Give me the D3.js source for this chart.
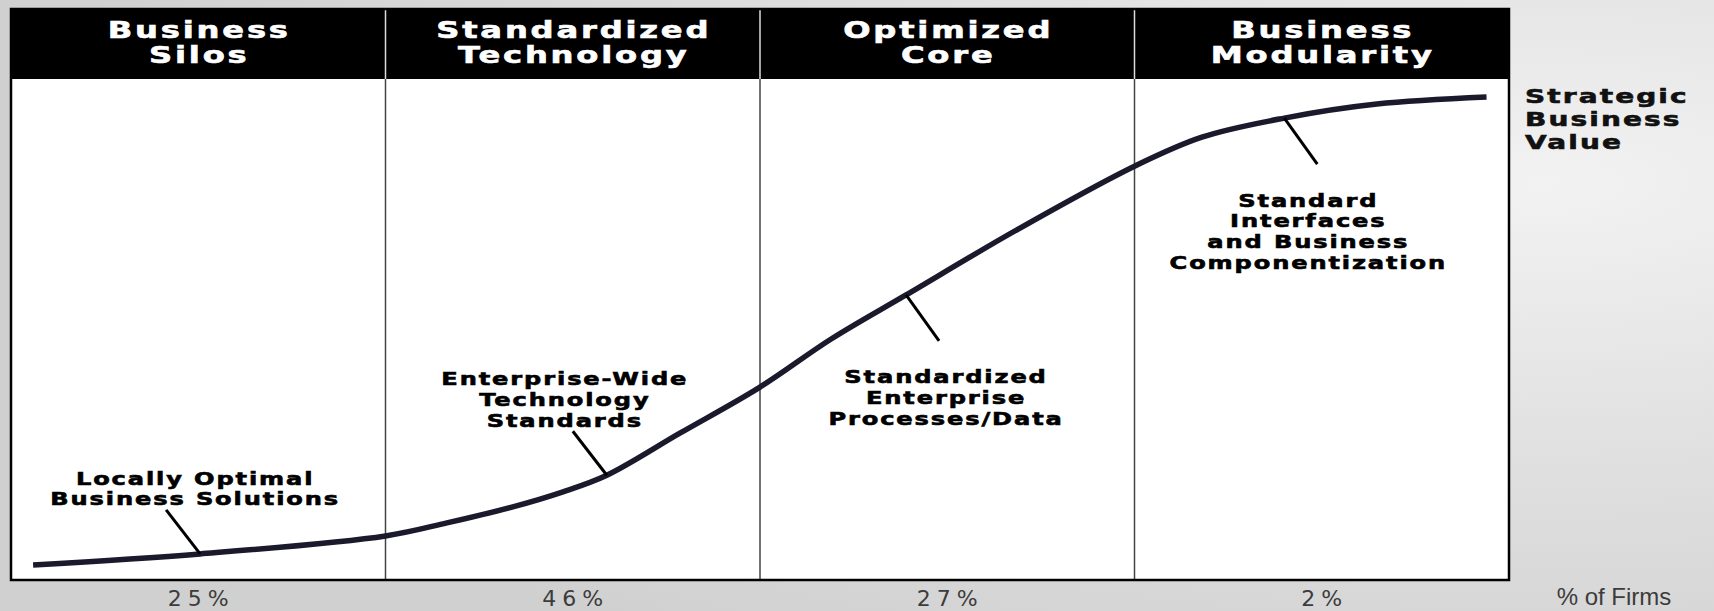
<!DOCTYPE html>
<html>
<head>
<meta charset="utf-8">
<script src="https://cdn.jsdelivr.net/npm/d3@7"></script>
<style>
  body { margin: 0; background: #d9d9d9; }
  svg { display: block; }
</style>
</head>
<body>
<svg width="1714" height="611"></svg>
<script>
// stages across the top
const stages = [
  ["Business", "Silos"],
  ["Standardized", "Technology"],
  ["Optimized", "Core"],
  ["Business", "Modularity"]
];

// share of firms in each stage
const firmShares = ["25%", "46%", "27%", "2%"];

// curve: x in stage units (0-4), y = strategic value (0-100)
const curveX = [0.059, 0.505, 1.0, 1.164, 1.34, 1.474, 1.591, 1.786, 2.0, 2.19, 2.39, 2.686, 3.0, 3.18, 3.40, 3.647, 3.94];
const curveY = [3.0, 5.2, 8.8, 11.4, 14.6, 17.6, 20.9, 29.3, 38.5, 48.1, 56.9, 69.9, 82.6, 88.4, 92.2, 95.0, 96.4];

// callouts: index of the curve point they point at, and text lines
const calloutPoint = [1, 6, 10, 14];
const calloutText = [
  ["Locally Optimal", "Business Solutions"],
  ["Enterprise-Wide", "Technology", "Standards"],
  ["Standardized", "Enterprise", "Processes/Data"],
  ["Standard", "Interfaces", "and Business", "Componentization"]
];

const valueLabel = ["Strategic", "Business", "Value"];

const svg = d3.select("svg");

// background
const defs = svg.append("defs");
const bg = defs.append("radialGradient").attr("id", "bg")
  .attr("cx", "0.9").attr("cy", "0.3").attr("r", "0.9");
bg.append("stop").attr("offset", "0").attr("stop-color", "#f2f2f2");
bg.append("stop").attr("offset", "0.5").attr("stop-color", "#e0e0e0");
bg.append("stop").attr("offset", "1").attr("stop-color", "#d0d0d0");
svg.append("rect").attr("width", 1714).attr("height", 611).attr("fill", "url(#bg)");

// scales
const x = d3.scaleLinear().domain([0, 4]).range([11, 1509]);
const y = d3.scaleLinear().domain([0, 100]).range([580, 79]);
const headTop = 9;

// wide heavy lettering: each line its own text, stretched horizontally
function wideText(g, str, cx, cy, size, stretch, spacing, fill, anchor) {
  return g.append("text")
    .attr("transform", `translate(${cx},${cy}) scale(${stretch},1)`)
    .attr("text-anchor", anchor || "middle")
    .attr("fill", fill)
    .attr("stroke", fill)
    .attr("stroke-width", 0.6)
    .style("font-family", "DejaVu Sans")
    .style("font-weight", "bold")
    .style("font-size", size + "px")
    .style("letter-spacing", spacing + "px")
    .text(str);
}

// white plot area
svg.append("rect")
  .attr("x", x(0)).attr("y", y(100))
  .attr("width", x(4) - x(0)).attr("height", y(0) - y(100))
  .attr("fill", "#ffffff");

// header band
svg.append("rect")
  .attr("x", x(0)).attr("y", headTop)
  .attr("width", x(4) - x(0)).attr("height", y(100) - headTop)
  .attr("fill", "#000000");

// column dividers
svg.selectAll("line.div")
  .data([1, 2, 3])
  .enter()
  .append("line")
  .attr("class", "div")
  .attr("x1", d => x(d)).attr("x2", d => x(d))
  .attr("y1", y(100)).attr("y2", y(0))
  .attr("stroke", "#444")
  .attr("stroke-width", 1.5);

// header dividers, light over black
svg.selectAll("line.hdiv")
  .data([1, 2, 3])
  .enter()
  .append("line")
  .attr("class", "hdiv")
  .attr("x1", d => x(d)).attr("x2", d => x(d))
  .attr("y1", headTop).attr("y2", y(100))
  .attr("stroke", "#dddddd")
  .attr("stroke-width", 1.5);

// outer border
svg.append("rect")
  .attr("x", x(0)).attr("y", headTop)
  .attr("width", x(4) - x(0)).attr("height", y(0) - headTop)
  .attr("fill", "none")
  .attr("stroke", "#000")
  .attr("stroke-width", 2.5);

// header text
stages.forEach((lines, i) => {
  lines.forEach((t, j) => {
    wideText(svg, t, x(i + 0.5) + 1, 38 + j * 25, 23, 1.4, 2, "#ffffff");
  });
});

// the curve
const line = d3.line()
  .x(d => x(d[0]))
  .y(d => y(d[1]))
  .curve(d3.curveCatmullRom.alpha(0.5));

const points = curveX.map((v, i) => [v, curveY[i]]);

svg.append("path")
  .attr("d", line(points))
  .attr("fill", "none")
  .attr("stroke", "#1a1a2c")
  .attr("stroke-width", 5.5)
  .attr("stroke-linecap", "butt");

// callouts
calloutPoint.forEach((p, i) => {
  const px = x(points[p][0]);
  const py = y(points[p][1]);
  const up = i < 2;
  const ex = up ? px - 34 : px + 33;
  const ey = up ? py - 44 : py + 46;
  svg.append("line")
    .attr("x1", px).attr("y1", py)
    .attr("x2", ex).attr("y2", ey)
    .attr("stroke", "#000")
    .attr("stroke-width", 3);

  const lines = calloutText[i];
  const lx = [px - 5, px - 42, px + 40, px + 24][i];
  const lineH = 20.7;
  const firstY = up ? ey - 11 - (lines.length - 1) * lineH : ey + 36;
  lines.forEach((t, j) => {
    wideText(svg, t, lx, firstY + j * lineH + 6.5, 18, 1.34, 1.4, "#000");
  });
});

// right-hand axis label
valueLabel.forEach((t, j) => {
  wideText(svg, t, 1525, 103 + j * 23, 20, 1.4, 1.5, "#111", "start");
});

// share of firms along the bottom
svg.selectAll("text.share")
  .data(firmShares)
  .enter()
  .append("text")
  .attr("class", "share")
  .attr("x", (d, i) => x(i + 0.5) + 3)
  .attr("y", 606)
  .attr("text-anchor", "middle")
  .attr("fill", "#3c3c3c")
  .style("font-family", "DejaVu Sans")
  .style("font-size", "22px")
  .style("letter-spacing", "6px")
  .text(d => d);

svg.append("text")
  .attr("x", 1614)
  .attr("y", 605)
  .attr("text-anchor", "middle")
  .attr("fill", "#3c3c3c")
  .style("font-family", "Liberation Sans")
  .style("font-size", "24px")
  .text("% of Firms");
</script>
</body>
</html>
